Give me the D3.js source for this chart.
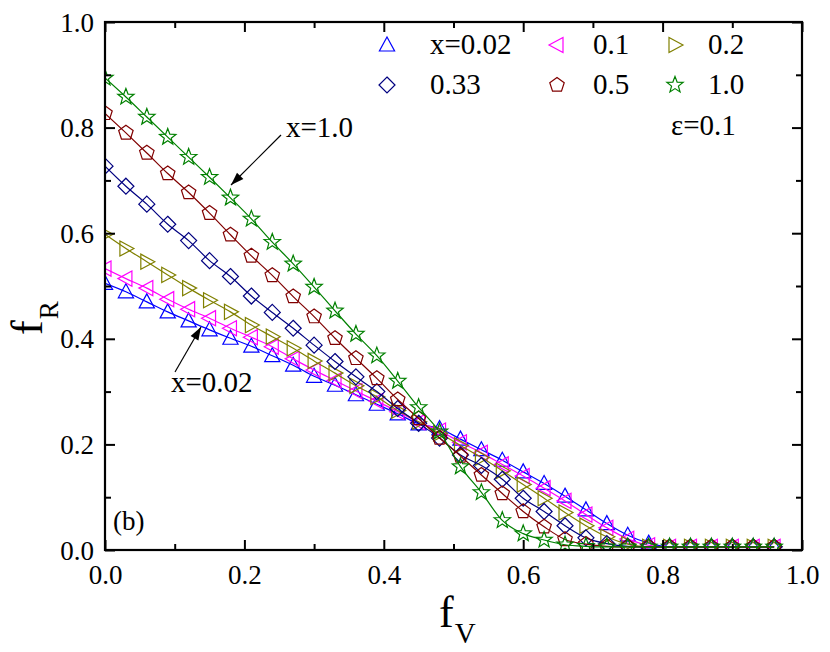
<!DOCTYPE html>
<html>
<head>
<meta charset="utf-8">
<script src="https://cdn.jsdelivr.net/npm/d3@7"></script>
<style>
html,body{margin:0;padding:0;background:#fff;}
svg text{font-family:"Liberation Serif","Times New Roman","DejaVu Serif",serif !important;fill:#000;}
</style>
</head>
<body>
<svg id="chart" width="830" height="652" font-family="Liberation Serif"></svg>
<script>
// ---- data ----
const fV = [0,0.03,0.06,0.09,0.12,0.15,0.18,0.21,0.24,0.27,0.30,0.33,0.36,0.39,0.42,0.45,0.48,0.51,0.54,0.57,0.60,0.63,0.66,0.69,0.72,0.75,0.78,0.81,0.84,0.87,0.90,0.93,0.96];
const fR_x002 = [0.505,0.489,0.470,0.451,0.434,0.417,0.401,0.386,0.368,0.350,0.329,0.312,0.294,0.276,0.258,0.239,0.230,0.210,0.190,0.170,0.148,0.126,0.102,0.076,0.050,0.028,0.013,0.006,0.006,0.006,0.006,0.006,0.006];
const fR_x01  = [0.533,0.514,0.496,0.475,0.456,0.439,0.420,0.403,0.385,0.362,0.341,0.321,0.301,0.282,0.262,0.242,0.226,0.204,0.184,0.162,0.140,0.117,0.093,0.067,0.042,0.021,0.009,0.006,0.006,0.006,0.006,0.006,0.006];
const fR_x02  = [0.598,0.571,0.546,0.521,0.496,0.473,0.451,0.426,0.404,0.382,0.358,0.335,0.311,0.290,0.264,0.243,0.221,0.198,0.175,0.150,0.124,0.098,0.071,0.046,0.025,0.011,0.006,0.006,0.006,0.006,0.006,0.006,0.006];
const fR_x033 = [0.727,0.689,0.655,0.617,0.586,0.548,0.518,0.481,0.450,0.420,0.388,0.357,0.328,0.300,0.268,0.240,0.212,0.180,0.160,0.134,0.098,0.073,0.046,0.023,0.012,0.007,0.006,0.006,0.006,0.006,0.006,0.006,0.006];
const fR_x05  = [0.827,0.790,0.752,0.713,0.677,0.638,0.597,0.557,0.520,0.480,0.442,0.401,0.363,0.325,0.285,0.249,0.212,0.178,0.142,0.107,0.073,0.044,0.020,0.011,0.007,0.006,0.006,0.006,0.006,0.006,0.006,0.006,0.006];
const fR_x10  = [0.894,0.858,0.820,0.782,0.744,0.706,0.667,0.627,0.583,0.542,0.498,0.453,0.409,0.368,0.320,0.270,0.224,0.158,0.109,0.056,0.031,0.019,0.010,0.007,0.006,0.006,0.006,0.006,0.006,0.006,0.006,0.006,0.006];
const seriesNames = ["x=0.02","0.1","0.2","0.33","0.5","1.0"];
const seriesColors = ["#0000ff","#ff00ff","#808000","#000080","#800000","#008000"];
const seriesShapes = ["triUp","triLeft","triRight","diamond","pentagon","star"];
const xTicks = [0,0.2,0.4,0.6,0.8,1.0];
const yTicks = [0,0.2,0.4,0.6,0.8,1.0];
const minorTicks = [0.1,0.3,0.5,0.7,0.9];

const seriesValues = [fR_x002, fR_x01, fR_x02, fR_x033, fR_x05, fR_x10];

// ---- layout ----
const FONT = "'Liberation Serif','Times New Roman','DejaVu Serif',serif";
const svg = d3.select("#chart");
const L = 105, R = 802, T = 22, B = 550;
const x = d3.scaleLinear().domain([0,1]).range([L,R]);
const y = d3.scaleLinear().domain([0,1]).range([B,T]);

function shapePath(kind, r){
  const p = [];
  if(kind==="triUp"){ p.push([0,-r],[r*0.95,r*0.75],[-r*0.95,r*0.75]); }
  else if(kind==="triLeft"){ p.push([-r,0],[r*0.75,-r*0.95],[r*0.75,r*0.95]); }
  else if(kind==="triRight"){ p.push([r,0],[-r*0.75,-r*0.95],[-r*0.75,r*0.95]); }
  else if(kind==="diamond"){ p.push([0,-r],[r,0],[0,r],[-r,0]); }
  else if(kind==="pentagon"){
    for(let i=0;i<5;i++){const a=-Math.PI/2+i*2*Math.PI/5;p.push([r*Math.cos(a),r*Math.sin(a)]);}
  } else if(kind==="star"){
    for(let i=0;i<10;i++){const a=-Math.PI/2+i*Math.PI/5;const rr=i%2?r*0.42:r;p.push([rr*Math.cos(a),rr*Math.sin(a)]);}
  }
  return "M"+p.map(d=>d[0].toFixed(2)+","+d[1].toFixed(2)).join("L")+"Z";
}
const markerR = {triUp:8,triLeft:8,triRight:8,diamond:8,pentagon:7.6,star:8.6};

// clip
svg.append("defs").append("clipPath").attr("id","plotclip")
  .append("rect").attr("x",L).attr("y",T).attr("width",R-L).attr("height",B-T);

const plot = svg.append("g").attr("clip-path","url(#plotclip)");
const line = d3.line().x(d=>x(d[0])).y(d=>y(d[1])).curve(d3.curveMonotoneX);

seriesValues.forEach((vals,i)=>{
  const pts = fV.map((v,j)=>[v,vals[j]]);
  const g = plot.append("g");
  g.append("path").attr("d",line(pts)).attr("fill","none")
    .attr("stroke",seriesColors[i]).attr("stroke-width",1.2);
  g.selectAll("path.m").data(pts).enter().append("path").attr("class","m")
    .attr("d",shapePath(seriesShapes[i],markerR[seriesShapes[i]]))
    .attr("transform",d=>`translate(${x(d[0])},${y(d[1])})`)
    .attr("fill","none").attr("stroke",seriesColors[i]).attr("stroke-width",1.2);
});

// ---- axes ----
const fmt = d3.format(".1f");
function styleAxis(g){
  g.attr("font-family",FONT);
  g.select(".domain").remove();
  g.selectAll(".tick line").attr("stroke","#000").attr("stroke-width",2);
  g.selectAll(".tick text").attr("font-size",27).style("font-size","27px").style("font-family",FONT);
}
const axB = svg.append("g").attr("transform",`translate(0,${B})`)
  .call(d3.axisBottom(x).tickValues(xTicks).tickFormat(fmt).tickSizeInner(-10).tickSizeOuter(0));
styleAxis(axB);
axB.selectAll(".tick text").attr("dy",null).attr("y",34);
svg.append("g").attr("transform",`translate(0,${B})`)
  .call(d3.axisBottom(x).tickValues(minorTicks).tickFormat("").tickSizeInner(-6).tickSizeOuter(0))
  .call(styleAxis);
svg.append("g").attr("transform",`translate(0,${T})`)
  .call(d3.axisTop(x).tickValues(xTicks).tickFormat("").tickSizeInner(-10).tickSizeOuter(0)).call(styleAxis);
svg.append("g").attr("transform",`translate(0,${T})`)
  .call(d3.axisTop(x).tickValues(minorTicks).tickFormat("").tickSizeInner(-6).tickSizeOuter(0)).call(styleAxis);

const axL = svg.append("g").attr("transform",`translate(${L},0)`)
  .call(d3.axisLeft(y).tickValues(yTicks).tickFormat(fmt).tickSizeInner(-10).tickSizeOuter(0));
styleAxis(axL);
axL.selectAll(".tick text").attr("x",-11).attr("dy",null).attr("y",9);
svg.append("g").attr("transform",`translate(${L},0)`)
  .call(d3.axisLeft(y).tickValues(minorTicks).tickFormat("").tickSizeInner(-6).tickSizeOuter(0)).call(styleAxis);
svg.append("g").attr("transform",`translate(${R},0)`)
  .call(d3.axisRight(y).tickValues(yTicks).tickFormat("").tickSizeInner(-10).tickSizeOuter(0)).call(styleAxis);
svg.append("g").attr("transform",`translate(${R},0)`)
  .call(d3.axisRight(y).tickValues(minorTicks).tickFormat("").tickSizeInner(-6).tickSizeOuter(0)).call(styleAxis);

// frame
svg.append("rect").attr("x",L).attr("y",T).attr("width",R-L).attr("height",B-T)
  .attr("fill","none").attr("stroke","#000").attr("stroke-width",2.2);

function txt(xp,yp,s,size){
  return svg.append("text").attr("x",xp).attr("y",yp).attr("font-family",FONT)
    .style("font-size",size+"px").text(s);
}

// axis titles
const xt = svg.append("text").attr("x",439).attr("y",627).attr("font-family",FONT).style("font-size","44px");
xt.append("tspan").text("f");
xt.append("tspan").attr("dy",16).attr("dx",1).style("font-size","29px").text("V");
const yt = svg.append("text").attr("transform","translate(42,335) rotate(-90)").attr("font-family",FONT).style("font-size","44px");
yt.append("tspan").text("f");
yt.append("tspan").attr("dy",16).attr("dx",1).style("font-size","27px").text("R");

// legend
const legX = [387,557,675], legTX = [430,593,708], legY = [45,85];
seriesNames.forEach((name,i)=>{
  const col = i%3, row = Math.floor(i/3);
  svg.append("path").attr("d",shapePath(seriesShapes[i],markerR[seriesShapes[i]]))
    .attr("transform",`translate(${legX[col]},${legY[row]})`)
    .attr("fill","none").attr("stroke",seriesColors[i]).attr("stroke-width",1.2);
  txt(legTX[col],legY[row]+9,name,29);
});
txt(671,135,"ε=0.1",29);

// annotations
txt(286,137,"x=1.0",29);
txt(171,392,"x=0.02",29);
txt(113,530,"(b)",27);

function arrow(x1,y1,x2,y2){
  svg.append("line").attr("x1",x1).attr("y1",y1).attr("x2",x2).attr("y2",y2)
    .attr("stroke","#000").attr("stroke-width",1.2);
  const a = Math.atan2(y2-y1,x2-x1), len=13, w=4.5;
  const bx = x2-len*Math.cos(a), by = y2-len*Math.sin(a);
  const px = -Math.sin(a)*w, py = Math.cos(a)*w;
  svg.append("path").attr("d",`M${x2},${y2}L${bx+px},${by+py}L${bx-px},${by-py}Z`).attr("fill","#000");
}
arrow(281,135,231,185);
arrow(175,372,201,327);
</script>
</body>
</html>
